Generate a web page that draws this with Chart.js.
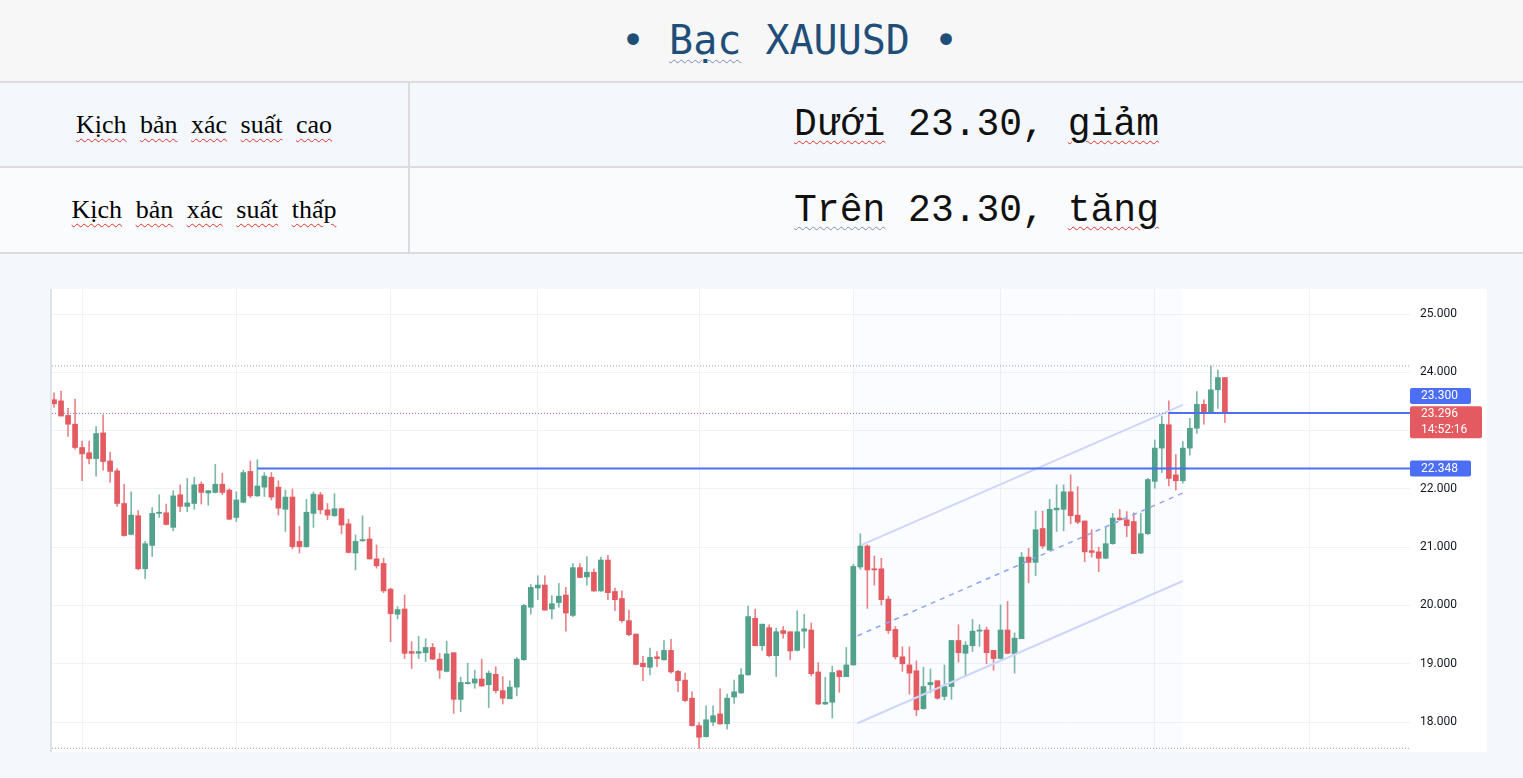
<!DOCTYPE html>
<html lang="vi">
<head>
<meta charset="UTF-8">
<title>Bạc XAUUSD</title>
<script src="https://cdn.jsdelivr.net/npm/chart.js@4"></script>
<style>
  body { margin: 0; width: 1523px; height: 778px; overflow: hidden; background: #f4f8fd; position: relative; }
  .band { position: absolute; left: 0; width: 1523px; }
  .title { top: 0; height: 81px; background: #f7f7f7; text-align: center; font: 40px/81px "DejaVu Sans Mono", monospace; color: #1f4e79; padding-left: 56px; box-sizing: border-box; }
  .rule { height: 2px; background: #dcdcdc; }
  .row1 { top: 83px; height: 83px; background: #f4f8fd; }
  .row2 { top: 168px; height: 84px; background: #fafbfd; }
  .cellL { position: absolute; left: 0; top: 0; width: 408px; height: 100%; text-align: center; font: 26px "Liberation Serif", serif; word-spacing: 7px; color: #000; display: flex; align-items: center; justify-content: center; }
  .cellR { position: absolute; left: 410px; top: 0; width: 1113px; height: 100%; font: 38px "Liberation Mono", monospace; color: #111; display: flex; align-items: center; justify-content: center; padding-left: 20px; box-sizing: border-box; }
  .vline { position: absolute; left: 408px; top: 83px; width: 2px; height: 169px; background: #dcdcdc; }
  .sp { text-decoration: underline wavy #d9342b; text-decoration-thickness: 1px; text-underline-offset: 5px; }
  .sg { text-decoration: underline wavy #7a8fb0; text-decoration-thickness: 1px; text-underline-offset: 5px; }
  #wrap { position: absolute; left: 50px; top: 289px; width: 1435px; height: 463px; background: #fff; border-left: 2px solid #dfe2e8; }
</style>
</head>
<body>
  <div class="band title">• <span class="sg">Bạc</span> XAUUSD •</div>
  <div class="band rule" style="top:81px"></div>
  <div class="band row1">
    <div class="cellL"><span><span class="sp">Kịch</span> <span class="sp">bản</span> <span class="sp">xác</span> <span class="sp">suất</span> <span class="sp">cao</span></span></div>
    <div class="cellR"><span><span class="sp">Dưới</span> 23.30, <span class="sp">giảm</span></span></div>
  </div>
  <div class="band rule" style="top:166px"></div>
  <div class="band row2">
    <div class="cellL"><span><span class="sp">Kịch</span> <span class="sp">bản</span> <span class="sp">xác</span> <span class="sp">suất</span> <span class="sp">thấp</span></span></div>
    <div class="cellR"><span><span class="sg">Trên</span> 23.30, <span class="sp">tăng</span></span></div>
  </div>
  <div class="band rule" style="top:252px"></div>
  <div class="vline"></div>

  <div id="wrap"><canvas id="chart" width="1435" height="463"></canvas></div>

<script>
// daily candles
const opens = [23.53,23.51,23.26,23.11,22.71,22.62,22.52,22.96,22.48,22.31,21.75,21.22,21.54,20.63,21.03,21.58,21.59,21.34,21.90,21.70,
  21.75,22.08,21.93,21.94,22.08,21.98,21.51,21.77,22.30,21.88,22.03,22.20,22.03,21.65,21.86,21.10,21.01,21.58,21.90,21.64,
  21.54,21.66,21.40,20.90,21.11,21.14,20.80,20.72,20.28,19.85,19.94,19.21,19.18,19.19,19.28,19.08,18.87,19.19,18.39,18.66,
  18.67,18.74,18.64,18.82,18.54,18.40,18.60,19.07,19.97,20.30,20.35,19.94,20.05,20.18,19.83,20.65,20.49,20.57,20.25,20.78,
  20.24,20.12,19.74,19.51,19.01,18.94,19.12,19.07,19.23,18.87,18.72,18.41,17.94,17.75,18.00,18.14,17.97,18.43,18.50,18.81,
  19.78,19.31,19.62,19.14,19.57,19.55,19.23,19.56,19.58,18.86,18.31,18.34,18.88,18.78,18.98,20.66,21.02,20.63,20.63,20.11,
  19.59,19.12,18.98,18.88,18.23,18.64,18.71,18.44,18.61,19.40,19.18,19.31,19.56,19.58,19.23,19.09,19.58,19.17,19.43,20.83,
  20.74,21.32,20.95,21.64,21.65,21.95,21.55,21.45,20.94,20.92,20.81,21.06,21.50,21.47,21.44,20.90,21.23,22.13,22.70,23.10,
  22.24,22.14,22.70,23.04,23.45,23.30,23.70,23.91];
const highs = [23.65,23.68,23.38,23.54,22.82,22.82,23.07,23.27,22.63,22.35,22.08,21.95,21.63,21.10,21.68,21.90,21.74,21.97,22.07,22.18,
  22.20,22.12,21.97,22.42,22.27,22.00,21.95,22.32,22.48,22.50,22.28,22.28,22.14,21.98,22.00,21.36,21.82,21.95,21.94,21.75,
  21.92,21.67,21.48,21.21,21.54,21.34,21.04,20.81,20.30,19.98,20.18,19.38,19.47,19.43,19.35,19.18,19.39,19.19,18.77,19.01,
  18.89,19.08,18.88,18.95,18.78,18.71,19.11,20.02,20.36,20.51,20.51,20.17,20.38,20.31,20.72,20.72,20.84,20.63,20.83,20.86,
  20.30,20.25,19.92,19.51,19.13,19.27,19.21,19.40,19.42,18.89,18.84,18.52,17.99,18.28,18.28,18.57,18.48,18.72,18.92,19.99,
  19.94,19.68,19.67,19.61,19.64,19.55,19.91,19.85,19.70,19.02,18.77,18.96,18.89,19.28,20.71,21.23,21.04,20.85,20.81,20.16,
  19.64,19.29,19.29,19.05,18.94,18.91,18.71,18.98,19.40,19.67,19.38,19.76,19.67,19.63,19.23,20.01,20.07,19.53,20.91,20.98,
  21.62,21.62,21.82,22.07,22.07,22.24,22.04,21.45,21.30,21.00,21.34,21.58,21.65,21.61,21.59,21.58,22.18,22.84,23.25,23.51,
  22.59,22.81,23.21,23.67,23.53,24.11,24.04,23.91];
const lows = [23.40,23.25,22.90,22.68,22.14,22.43,22.22,22.32,22.11,21.70,21.19,21.21,20.61,20.46,20.84,21.51,21.38,21.28,21.61,21.61,
  21.65,21.74,21.72,21.93,21.90,21.47,21.44,21.76,21.85,21.87,21.87,21.81,21.55,21.27,20.97,20.90,21.00,21.34,21.57,21.47,
  21.53,21.23,20.90,20.61,21.10,20.79,20.64,20.22,19.38,19.77,19.09,18.92,19.09,19.04,19.07,18.75,18.86,18.15,18.18,18.65,
  18.58,18.61,18.25,18.50,18.31,18.40,18.45,19.06,19.85,20.10,19.92,19.77,19.97,19.56,19.81,20.48,20.35,20.24,20.24,20.10,
  19.91,19.71,19.48,18.98,18.71,18.81,18.95,19.06,18.84,18.52,18.35,17.93,17.55,17.74,17.94,17.96,17.88,18.32,18.49,18.80,
  19.31,19.23,19.12,18.78,19.44,19.07,19.22,19.27,18.79,18.30,18.30,18.07,18.51,18.78,18.98,20.62,19.95,20.35,20.01,19.52,
  19.08,18.87,18.48,18.11,18.22,18.50,18.39,18.38,18.39,19.03,18.78,19.21,19.30,19.00,18.89,19.08,19.17,18.84,19.43,20.39,
  20.51,20.98,20.95,21.27,21.28,21.40,21.40,20.75,20.83,20.58,20.80,21.05,21.46,21.18,20.89,20.89,21.22,22.01,22.28,22.05,
  21.98,22.10,22.58,22.95,23.11,23.29,23.38,23.14];
const closes = [23.46,23.25,23.11,22.71,22.60,22.52,22.95,22.47,22.30,21.75,21.20,21.55,20.63,21.06,21.58,21.60,21.39,21.88,21.70,21.76,
  22.07,21.94,21.97,22.08,21.94,21.48,21.81,22.28,21.88,22.05,22.22,21.86,21.67,21.86,21.01,21.01,21.60,21.91,21.64,21.55,
  21.66,21.38,20.91,21.10,21.13,20.80,20.68,20.25,19.86,19.93,19.18,19.18,19.21,19.28,19.08,18.89,19.17,18.39,18.68,18.68,
  18.74,18.62,18.84,18.54,18.41,18.60,19.08,20.00,20.31,20.35,19.92,20.03,20.16,19.87,20.65,20.48,20.57,20.25,20.78,20.22,
  20.10,19.74,19.50,18.99,18.95,19.11,19.09,19.23,18.86,18.71,18.37,17.94,17.74,18.04,18.11,17.97,18.41,18.52,18.81,19.81,
  19.31,19.68,19.14,19.55,19.52,19.22,19.55,19.60,18.83,18.31,18.34,18.85,18.78,18.98,20.67,21.02,20.61,20.61,20.10,19.57,
  19.12,19.00,18.84,18.21,18.61,18.68,18.41,18.61,19.40,19.19,19.32,19.56,19.58,19.19,19.09,19.58,19.18,19.44,20.83,20.74,
  21.30,21.02,21.65,21.67,21.95,21.54,21.43,20.92,20.91,20.81,21.06,21.50,21.47,21.37,20.89,21.23,22.16,22.70,23.11,22.18,
  22.14,22.70,23.04,23.45,23.30,23.70,23.91,23.296];

// first candle of each month (vertical grid)
const monthStarts = [4, 26, 48, 69, 92, 114, 135, 157, 179];
const yTicks = [18, 19, 20, 21, 22, 23, 24, 25];

// drawn levels
const levelHigh = 24.11, levelLow = 17.55;
const levelA = 23.30, levelAStart = 159;
const levelB = 22.348, levelBStart = 29;
const lastPrice = 23.296, lastTime = '14:52:16';
const channelUpper = [[115.2, 21.04], [161, 23.44]];
const channelLower = [[114.6, 17.98], [161, 20.42]];
const channelMid = [[114.6, 19.48], [161, 21.93]];
const channelSpan = [114, 161];

const xMin = -0.29, xMax = 193.4;
const yMin = 17.487, yMax = 25.429;

const UP = '#52a18b', DOWN = '#e35a60';
const UP_WICK = 'rgba(82,161,139,0.75)', DOWN_WICK = 'rgba(227,90,96,0.75)';
const isUp = i => closes[i] >= opens[i];

const wicks = opens.map((o, i) => ({ x: i, y: [lows[i], highs[i]] }));
const bodies = opens.map((o, i) => ({ x: i, y: [o, closes[i]] }));

const seg = (x1, y1, x2, y2) => [{ x: x1, y: y1 }, { x: x2, y: y2 }];
const lineDs = (data, color, width, dash) => ({
  type: 'line', data, borderColor: color, borderWidth: width, borderDash: dash || [],
  pointRadius: 0, fill: false, order: 1, tension: 0
});

const overlay = {
  id: 'overlay',
  beforeDatasetsDraw(chart) {
    const { ctx, chartArea: a, scales: { x } } = chart;
    const x1 = x.getPixelForValue(channelSpan[0]);
    const x2 = x.getPixelForValue(channelSpan[1]);
    ctx.save();
    ctx.fillStyle = 'rgba(41,98,255,0.018)';
    ctx.fillRect(x1, a.top, x2 - x1, a.bottom - a.top);
    ctx.restore();
  },
  afterDraw(chart) {
    const { ctx, chartArea: a, scales: { y } } = chart;
    const tag = (top, h, w, color, texts) => {
      ctx.fillStyle = color;
      ctx.beginPath();
      ctx.roundRect(a.right, top, w, h, 2);
      ctx.fill();
      ctx.fillStyle = '#fff';
      ctx.font = '12px Roboto, sans-serif';
      ctx.textBaseline = 'middle';
      ctx.textAlign = 'left';
      texts.forEach((t, k) => ctx.fillText(t, a.right + 11, top + 8 + k * 16));
    };
    ctx.save();
    const yl = y.getPixelForValue(lastPrice);
    tag(yl - 7, 32, 72, DOWN, [lastPrice.toFixed(3), lastTime]);
    tag(y.getPixelForValue(levelA) - 25, 16, 61, '#4c6ef5', [levelA.toFixed(3)]);
    tag(y.getPixelForValue(levelB) - 8, 16, 61, '#4c6ef5', [levelB.toFixed(3)]);
    ctx.restore();
  }
};

new Chart(document.getElementById('chart'), {
  type: 'bar',
  data: {
    datasets: [
      { data: wicks, backgroundColor: c => isUp(c.dataIndex) ? UP_WICK : DOWN_WICK, barThickness: 1, grouped: false, order: 3 },
      { data: bodies, backgroundColor: c => isUp(c.dataIndex) ? UP : DOWN, barThickness: 5, minBarLength: 1, grouped: false, order: 2 },
      lineDs(seg(xMin, levelHigh, xMax, levelHigh), '#a0a3ab', 1, [1, 2]),
      lineDs(seg(xMin, levelLow, xMax, levelLow), '#a0a3ab', 1, [1, 2]),
      lineDs(seg(xMin, lastPrice, xMax, lastPrice), '#6f6fe0', 1, [1, 2]),
      lineDs(seg(levelAStart, levelA, xMax, levelA), '#4c6ef5', 2),
      lineDs(seg(levelBStart, levelB, xMax, levelB), '#4c6ef5', 2),
      lineDs(seg(...channelUpper[0], ...channelUpper[1]), '#cdd6fb', 2),
      lineDs(seg(...channelLower[0], ...channelLower[1]), '#cdd6fb', 2),
      lineDs(seg(...channelMid[0], ...channelMid[1]), '#8da3f7', 1.5, [5, 5])
    ]
  },
  options: {
    responsive: false,
    animation: false,
    events: [],
    layout: { padding: 0, autoPadding: false },
    plugins: { legend: { display: false }, tooltip: { enabled: false } },
    scales: {
      x: {
        type: 'linear', min: xMin, max: xMax, offset: false,
        afterBuildTicks: s => { s.ticks = monthStarts.map(v => ({ value: v })); },
        afterFit: s => { s.height = 0; s.paddingLeft = 0; s.paddingRight = 0; },
        ticks: { display: false },
        grid: { color: '#f0f2f6', drawTicks: false, offset: false },
        border: { display: false }
      },
      y: {
        position: 'right', min: yMin, max: yMax,
        afterBuildTicks: s => { s.ticks = yTicks.map(v => ({ value: v })); },
        afterFit: s => { s.width = 77; s.paddingTop = 0; s.paddingBottom = 0; },
        ticks: { padding: 10, color: '#131722', font: { family: 'Roboto', size: 12 }, callback: v => v.toFixed(3) },
        grid: { color: '#f0f2f6', drawTicks: false },
        border: { display: false }
      }
    }
  },
  plugins: [overlay]
});
</script>
</body>
</html>
